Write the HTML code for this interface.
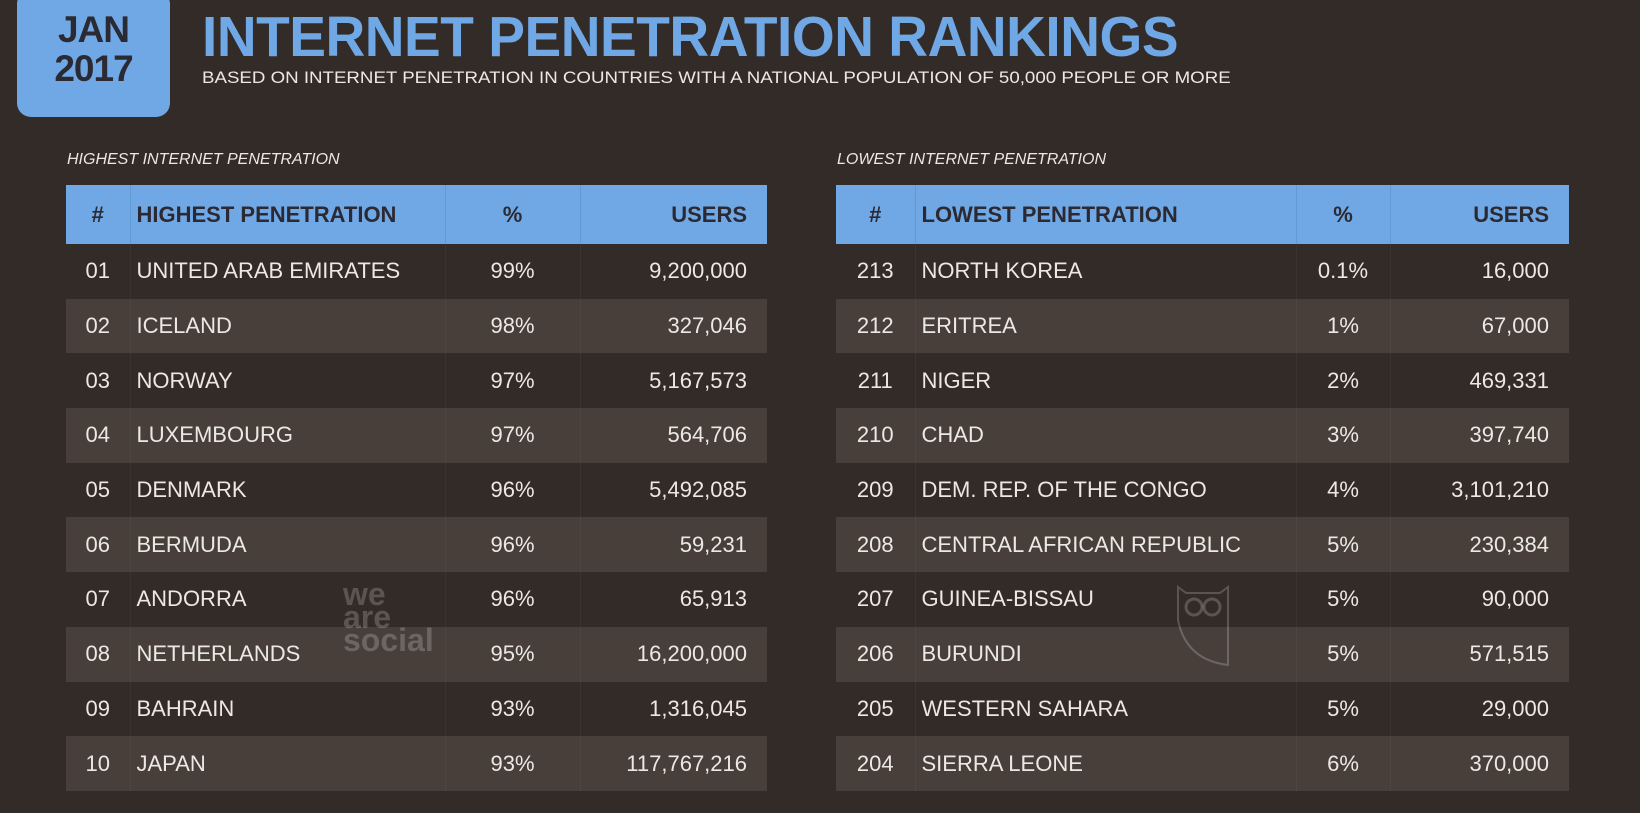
<!DOCTYPE html>
<html><head><meta charset="utf-8"><style>
body{margin:0;width:1640px;height:813px;background:#322b27;font-family:"Liberation Sans",sans-serif;position:relative;overflow:hidden;color:#ece8e3}
.box{position:absolute;left:17px;top:-10px;width:153px;height:127px;background:#70a8e6;border-radius:14px;color:#2b2a33;font-weight:bold;font-size:37px;line-height:39px;text-align:center;box-sizing:border-box;padding-top:20px;letter-spacing:-1px}
.title{position:absolute;left:202px;top:4px;font-size:57px;font-weight:bold;color:#70a8e6;letter-spacing:-0.5px;transform:scaleX(0.966);transform-origin:left}
.sub{position:absolute;left:202px;top:68px;font-size:17px;color:#ece8e3;transform:scaleX(1.1);transform-origin:left}
.lab{position:absolute;top:151px;font-size:16px;font-style:italic;color:#ece8e3}
table{position:absolute;top:185px;border-collapse:collapse;font-size:22px}
th{background:#70a8e6;color:#2b2a33;height:57px;font-weight:bold;font-size:22px;border-left:1px solid #629ad6}
td{height:54.7px;padding:0;border-left:1px solid rgba(255,255,255,0.04)}
tr:nth-child(odd) td{background:#483f3a}
th:first-child,td:first-child{border-left:none}
.c{text-align:center}.l{text-align:left;padding-left:6px}.r{text-align:right;padding-right:20px}
.wm{position:absolute;left:343px;top:583px;color:rgba(255,255,255,0.2);font-weight:bold;font-size:32px;line-height:23px}
</style></head><body>
<div class="box">JAN<br>2017</div>
<div class="title">INTERNET PENETRATION RANKINGS</div>
<div class="sub">BASED ON INTERNET PENETRATION IN COUNTRIES WITH A NATIONAL POPULATION OF 50,000 PEOPLE OR MORE</div>
<div class="lab" style="left:67px">HIGHEST INTERNET PENETRATION</div>
<div class="lab" style="left:837px">LOWEST INTERNET PENETRATION</div>
<table style="left:66px;width:701px">
<colgroup><col style="width:64px"><col style="width:315px"><col style="width:135px"><col style="width:187px"></colgroup>
<tr><th class="c">#</th><th class="l">HIGHEST PENETRATION</th><th class="c">%</th><th class="r">USERS</th></tr>
<tr><td class="c">01</td><td class="l">UNITED ARAB EMIRATES</td><td class="c">99%</td><td class="r">9,200,000</td></tr>
<tr><td class="c">02</td><td class="l">ICELAND</td><td class="c">98%</td><td class="r">327,046</td></tr>
<tr><td class="c">03</td><td class="l">NORWAY</td><td class="c">97%</td><td class="r">5,167,573</td></tr>
<tr><td class="c">04</td><td class="l">LUXEMBOURG</td><td class="c">97%</td><td class="r">564,706</td></tr>
<tr><td class="c">05</td><td class="l">DENMARK</td><td class="c">96%</td><td class="r">5,492,085</td></tr>
<tr><td class="c">06</td><td class="l">BERMUDA</td><td class="c">96%</td><td class="r">59,231</td></tr>
<tr><td class="c">07</td><td class="l">ANDORRA</td><td class="c">96%</td><td class="r">65,913</td></tr>
<tr><td class="c">08</td><td class="l">NETHERLANDS</td><td class="c">95%</td><td class="r">16,200,000</td></tr>
<tr><td class="c">09</td><td class="l">BAHRAIN</td><td class="c">93%</td><td class="r">1,316,045</td></tr>
<tr><td class="c">10</td><td class="l">JAPAN</td><td class="c">93%</td><td class="r">117,767,216</td></tr>
</table>
<table style="left:836px;width:733px">
<colgroup><col style="width:79px"><col style="width:381px"><col style="width:94px"><col style="width:179px"></colgroup>
<tr><th class="c">#</th><th class="l">LOWEST PENETRATION</th><th class="c">%</th><th class="r">USERS</th></tr>
<tr><td class="c">213</td><td class="l">NORTH KOREA</td><td class="c">0.1%</td><td class="r">16,000</td></tr>
<tr><td class="c">212</td><td class="l">ERITREA</td><td class="c">1%</td><td class="r">67,000</td></tr>
<tr><td class="c">211</td><td class="l">NIGER</td><td class="c">2%</td><td class="r">469,331</td></tr>
<tr><td class="c">210</td><td class="l">CHAD</td><td class="c">3%</td><td class="r">397,740</td></tr>
<tr><td class="c">209</td><td class="l">DEM. REP. OF THE CONGO</td><td class="c">4%</td><td class="r">3,101,210</td></tr>
<tr><td class="c">208</td><td class="l">CENTRAL AFRICAN REPUBLIC</td><td class="c">5%</td><td class="r">230,384</td></tr>
<tr><td class="c">207</td><td class="l">GUINEA-BISSAU</td><td class="c">5%</td><td class="r">90,000</td></tr>
<tr><td class="c">206</td><td class="l">BURUNDI</td><td class="c">5%</td><td class="r">571,515</td></tr>
<tr><td class="c">205</td><td class="l">WESTERN SAHARA</td><td class="c">5%</td><td class="r">29,000</td></tr>
<tr><td class="c">204</td><td class="l">SIERRA LEONE</td><td class="c">6%</td><td class="r">370,000</td></tr>
</table>
<div class="wm">we<br>are<br>social</div>
<svg style="position:absolute;left:1176px;top:585px" width="56" height="82"><path d="M2 2 L10 8 L44 8 L52 2 L52 80 Q10 75 2 35 Z" fill="none" stroke="rgba(255,255,255,0.2)" stroke-width="2"/><circle cx="18" cy="22" r="8" fill="none" stroke="rgba(255,255,255,0.2)" stroke-width="3"/><circle cx="36" cy="22" r="8" fill="none" stroke="rgba(255,255,255,0.2)" stroke-width="3"/></svg>
</body></html>
